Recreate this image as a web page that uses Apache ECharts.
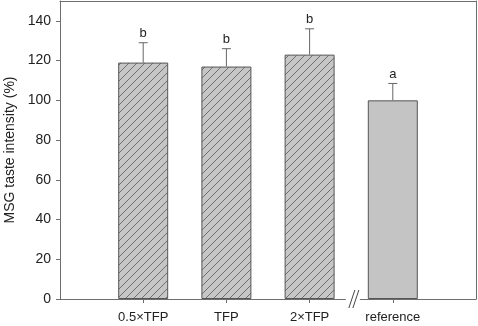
<!DOCTYPE html>
<html>
<head>
<meta charset="utf-8">
<script src="https://cdn.jsdelivr.net/npm/echarts@6/dist/echarts.min.js"></script>
<style>
  html, body { margin: 0; padding: 0; background: #fff; }
  #chart { width: 478px; height: 326px; }
</style>
</head>
<body>
<div id="chart"></div>
<script>
// data
var categories = ['0.5\u00d7TFP', 'TFP', '2\u00d7TFP', 'reference']
var positions = [1, 2, 3, 4]
var means = [119, 117, 123, 100]
var errors = [10, 9, 13, 8.5]
var letters = ['b', 'b', 'b', 'a']
var hatched = [true, true, true, false]
var breakAt = 3.52
var yTicks = [0, 20, 40, 60, 80, 100, 120, 140]

// diagonal hatch tile
function makeHatch() {
  var c = document.createElement('canvas')
  var s = 8
  c.width = s
  c.height = s
  var ctx = c.getContext('2d')
  ctx.fillStyle = '#c6c6c6'
  ctx.fillRect(0, 0, s, s)
  ctx.strokeStyle = '#4a4a4a'
  ctx.lineWidth = 0.7
  ctx.beginPath()
  ctx.moveTo(0, s); ctx.lineTo(s, 0)
  ctx.moveTo(-1, 1); ctx.lineTo(1, -1)
  ctx.moveTo(s - 1, s + 1); ctx.lineTo(s + 1, s - 1)
  ctx.stroke()
  return c
}
var hatch = { image: makeHatch(), repeat: 'repeat' }

var chart = echarts.init(document.getElementById('chart'))
var font = 'Liberation Sans, Arial, sans-serif'
var axisGray = '#6e6e6e'

var barData = positions.map(function (p, i) {
  return {
    value: [p, means[i]],
    itemStyle: { color: hatched[i] ? hatch : '#c4c4c4' }
  }
})
var errData = positions.map(function (p, i) {
  return [p, means[i], errors[i], i]
})

var option = {
  animation: false,
  backgroundColor: '#fff',
  grid: { left: 60, right: 2, top: 1, bottom: 27, outerBoundsMode: 'none' },
  xAxis: [{
    type: 'value',
    min: 0, max: 5, interval: 1,
    splitLine: { show: false },
    axisLine: { onZero: false, lineStyle: { color: axisGray } },
    axisTick: { customValues: positions, length: 4, lineStyle: { color: axisGray } },
    axisLabel: {
      customValues: positions,
      color: '#222', fontFamily: font, fontSize: 13, margin: 12,
      formatter: function (v) { return categories[v - 1] }
    }
  }, {
    type: 'value', position: 'top',
    min: 0, max: 5,
    splitLine: { show: false },
    axisLine: { show: true, onZero: false, lineStyle: { color: axisGray } },
    axisTick: { show: false }, axisLabel: { show: false }
  }],
  yAxis: [{
    type: 'value',
    min: 0, max: 150, interval: 20,
    name: 'MSG taste intensity (%)',
    nameLocation: 'middle', nameGap: 42,
    nameTextStyle: { color: '#222', fontFamily: font, fontSize: 14 },
    splitLine: { show: false },
    axisLine: { show: true, onZero: false, lineStyle: { color: axisGray } },
    axisTick: { show: true, length: 4, customValues: yTicks, lineStyle: { color: axisGray } },
    axisLabel: { customValues: yTicks, color: '#222', fontFamily: font, fontSize: 14, margin: 9 }
  }, {
    type: 'value', position: 'right',
    min: 0, max: 150,
    splitLine: { show: false },
    axisLine: { show: true, onZero: false, lineStyle: { color: axisGray } },
    axisTick: { show: false }, axisLabel: { show: false }
  }],
  series: [
    {
      type: 'bar',
      data: barData,
      barWidth: 50,
      itemStyle: { borderColor: '#555', borderWidth: 1 }
    },
    {
      type: 'custom',
      data: errData,
      z: 5,
      renderItem: function (params, api) {
        var x = api.value(0), m = api.value(1), e = api.value(2)
        var base = api.coord([x, m])
        var top = api.coord([x, m + e])
        var cap = 4.5
        var st = { stroke: '#666', lineWidth: 1 }
        return {
          type: 'group',
          children: [
            { type: 'line', shape: { x1: base[0], y1: base[1], x2: top[0], y2: top[1] }, style: st },
            { type: 'line', shape: { x1: top[0] - cap, y1: top[1], x2: top[0] + cap, y2: top[1] }, style: st },
            {
              type: 'text',
              style: {
                x: top[0], y: top[1] - 3,
                text: letters[api.value(3)],
                fill: '#222', font: '13px ' + font,
                align: 'center', verticalAlign: 'bottom'
              }
            }
          ]
        }
      }
    },
    {
      // axis break marks
      type: 'custom',
      data: [[breakAt, 0]],
      z: 6,
      clip: false,
      renderItem: function (params, api) {
        var p = api.coord([api.value(0), api.value(1)])
        var st = { stroke: '#444', lineWidth: 1 }
        return {
          type: 'group',
          children: [
            { type: 'rect', shape: { x: p[0] - 7, y: p[1] - 3, width: 14, height: 6 }, style: { fill: '#fff' } },
            { type: 'line', shape: { x1: p[0] - 4, y1: p[1] + 9, x2: p[0] + 2, y2: p[1] - 9 }, style: st },
            { type: 'line', shape: { x1: p[0], y1: p[1] + 9, x2: p[0] + 6, y2: p[1] - 9 }, style: st }
          ]
        }
      }
    }
  ]
}
chart.setOption(option)
</script>
</body>
</html>
